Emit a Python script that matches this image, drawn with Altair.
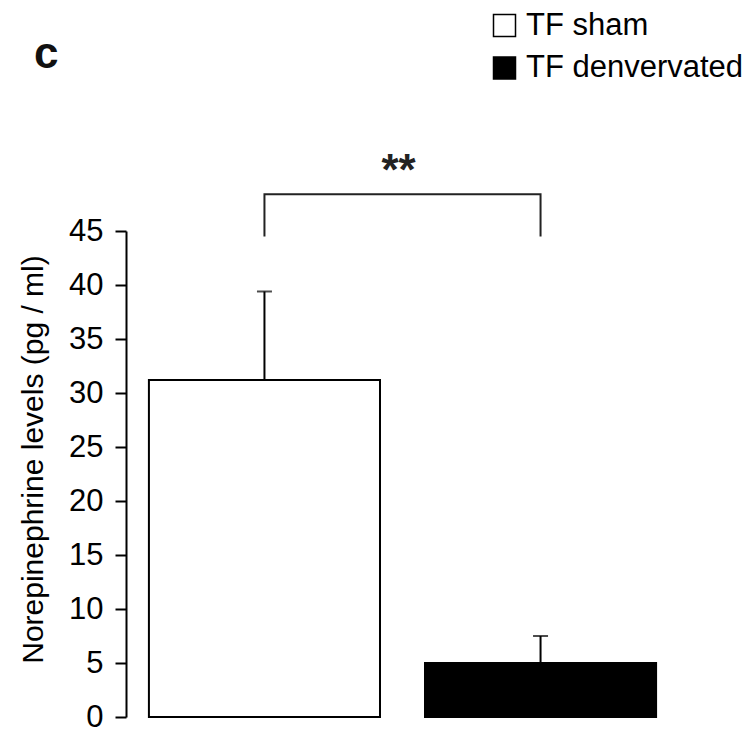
import altair as alt
import pandas as pd

groups = ["TF sham", "TF denvervated"]
means = [31.2, 5.0]
errors = [8.2, 2.5]
bracket_low = 44.5
bracket_high = 48.4
y_ticks = [0, 5, 10, 15, 20, 25, 30, 35, 40, 45]

FONT = "Liberation Sans"

df = pd.DataFrame({"group": groups, "mean": means, "err": errors})
df["upper"] = df["mean"] + df["err"]

bracket = pd.DataFrame({
    "group": [groups[0], groups[0], groups[1], groups[1]],
    "y": [bracket_low, bracket_high, bracket_high, bracket_low],
    "order": [0, 1, 2, 3],
})

xscale = alt.Scale(domain=groups, paddingInner=0.163, paddingOuter=0.083)
yscale = alt.Scale(domain=[0, 45], nice=False, zero=True)
xenc = alt.X("group:N", scale=xscale, axis=None, sort=groups)

bars = alt.Chart(df).mark_bar(stroke="black", strokeWidth=2).encode(
    x=xenc,
    y=alt.Y("mean:Q", scale=yscale,
            axis=alt.Axis(values=y_ticks, title="Norepinephrine levels (pg / ml)",
                          grid=False, domainColor="black", domainWidth=2,
                          tickColor="black", tickWidth=2, tickSize=11,
                          labelFont=FONT, labelFontSize=31, labelColor="black",
                          labelPadding=12, titleFont=FONT, titleFontSize=30,
                          titleFontWeight="normal", titleColor="black",
                          titleX=-78, titleY=228)),
    fill=alt.Fill("group:N", scale=alt.Scale(domain=groups, range=["white", "black"]),
                  legend=alt.Legend(title=None, orient="none", legendX=363, legendY=-221,
                                    symbolType="square", symbolSize=484,
                                    symbolStrokeColor="black", symbolStrokeWidth=1.5,
                                    labelFont=FONT, labelFontSize=31, labelColor="black",
                                    labelOffset=6, rowPadding=10.5, labelLimit=0)),
)

err_rule = alt.Chart(df).mark_rule(color="black", strokeWidth=2).encode(
    x=xenc, y=alt.Y("mean:Q", scale=yscale), y2="upper:Q"
)
err_cap = alt.Chart(df).mark_tick(color="black", thickness=2, size=15).encode(
    x=xenc, y=alt.Y("upper:Q", scale=yscale)
)

brk = alt.Chart(bracket).mark_line(color="#222222", strokeWidth=2, clip=False).encode(
    x=xenc, y=alt.Y("y:Q", scale=yscale), order="order:Q"
)

stars = alt.Chart(pd.DataFrame({"t": ["**"]})).mark_text(
    font=FONT, fontSize=44, fontWeight="bold", color="#222222", align="center",
    baseline="alphabetic", clip=False
).encode(text="t:N", x=alt.value(272.5), y=alt.value(-46))

label_c = alt.Chart(pd.DataFrame({"t": ["c"]})).mark_text(
    font=FONT, fontSize=44, fontWeight="bold", color="#111111", align="left",
    baseline="alphabetic", clip=False
).encode(text="t:N", x=alt.value(-92), y=alt.value(-163))

chart = alt.layer(bars, err_rule, err_cap, brk, stars, label_c).properties(
    width=553, height=486,
    autosize=alt.AutoSizeParams(type="none"),
    padding={"left": 126, "top": 231, "right": 65, "bottom": 13},
).configure(background="white").configure_view(stroke=None)

chart.save("out.html", embed_options={"renderer": "svg", "actions": False})
